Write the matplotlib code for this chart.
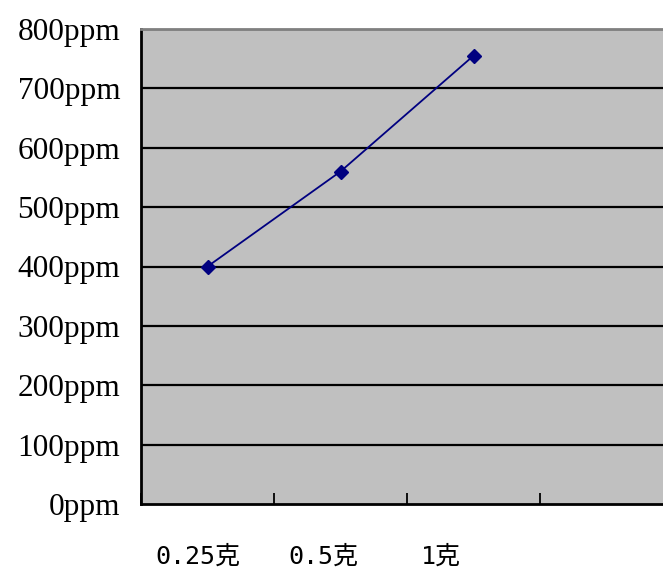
import numpy as np
import matplotlib.pyplot as plt

categories = ['0.25克', '0.5克', '1克', '']
values = [400, 560, 755]
yticks = [0, 100, 200, 300, 400, 500, 600, 700, 800]
ylabels = ['%dppm' % v for v in yticks]

fig = plt.figure(figsize=(6.63, 5.70), dpi=100)
ax = fig.add_axes([141 / 663, 66 / 570, 532 / 663, 475 / 570])
ax.set_facecolor('#c0c0c0')

x = np.arange(len(values))
ax.plot(x, values, color='#000080', lw=1.3, marker='D', ms=7, zorder=3)

ax.set_xlim(-0.5, len(categories) - 0.5)
ax.set_ylim(0, 800)

for v in yticks[1:]:
    ax.axhline(v, color='black', lw=1.6, zorder=1)

ax.set_yticks(yticks)
ax.set_yticklabels(ylabels, family='Liberation Serif', fontsize=22.5)
ax.tick_params(axis='y', length=0, pad=15)

# category boundaries as inward ticks, labels placed under each category
ax.set_xticks(np.arange(len(categories) + 1) - 0.5)
ax.set_xticklabels([])
ax.tick_params(axis='x', direction='in', length=8, width=1.3)
for i, c in enumerate(categories):
    ax.text(i - 0.5 + 0.105, -0.11, c, transform=ax.get_xaxis_transform(),
            ha='left', va='center', fontsize=18,
            family=['DejaVu Sans Mono', 'Noto Sans CJK SC'])

ax.spines['top'].set_color('#808080')
ax.spines['top'].set_linewidth(2)
ax.spines['right'].set_visible(False)
ax.spines['left'].set_linewidth(2)
ax.spines['bottom'].set_linewidth(2)

fig.savefig('out.png', dpi=100)
